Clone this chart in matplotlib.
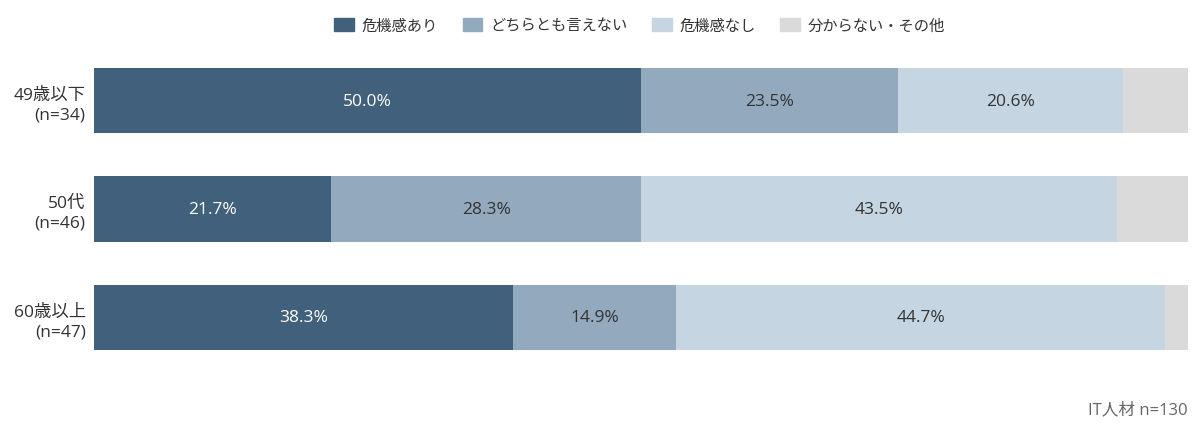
import numpy as np
import matplotlib
matplotlib.use('Agg')
import matplotlib.pyplot as plt
from matplotlib.patches import Patch

plt.rcParams['font.family'] = ['Open Sans', 'Noto Sans CJK JP', 'DejaVu Sans']

groups = ['49歳以下\n(n=34)', '50代\n(n=46)', '60歳以上\n(n=47)']
series_names = ['危機感あり', 'どちらとも言えない', '危機感なし', '分からない・その他']
kiki_ari = [50.0, 21.7, 38.3]
dochira = [23.5, 28.3, 14.9]
kiki_nashi = [20.6, 43.5, 44.7]
other = [5.9, 6.5, 2.1]

colors = ['#41607c', '#93a9be', '#c5d5e2', '#dadada']
text_colors = ['white', '#333333', '#333333', None]

fig = plt.figure(figsize=(12, 4.31), dpi=100)
ax = fig.add_axes([0.0783, 0.1856, 0.9117, 0.6543])

y = np.arange(len(groups))
left = np.zeros(len(groups))
for vals, col, tc in zip([kiki_ari, dochira, kiki_nashi, other], colors, text_colors):
    vals = np.array(vals)
    ax.barh(y, vals, left=left, height=0.6, color=col)
    if tc is not None:
        for yi, l, v in zip(y, left, vals):
            ax.text(l + v / 2, yi, f'{v:.1f}%', ha='center', va='center',
                    color=tc, fontsize=12.5)
    left += vals

ax.set_xlim(0, 100)
ax.set_ylim(2.3, -0.3)
ax.set_yticks(y)
ax.set_yticklabels(groups, fontsize=12.5, color='#333333', linespacing=1.3)
ax.tick_params(axis='y', length=0, pad=6)
ax.set_xticks([])
for s in ax.spines.values():
    s.set_visible(False)

handles = [Patch(color=c) for c in colors]
fig.legend(handles, series_names, loc='center', bbox_to_anchor=(0.533, 0.937),
           ncol=4, frameon=False, fontsize=11, handlelength=1.3, handleheight=0.9,
           columnspacing=1.6, handletextpad=0.5, labelcolor='#333333')

fig.text(0.99, 0.048, 'IT人材 n=130', ha='right', va='center', fontsize=12, color='#666666')

fig.savefig('out.png', dpi=100)
